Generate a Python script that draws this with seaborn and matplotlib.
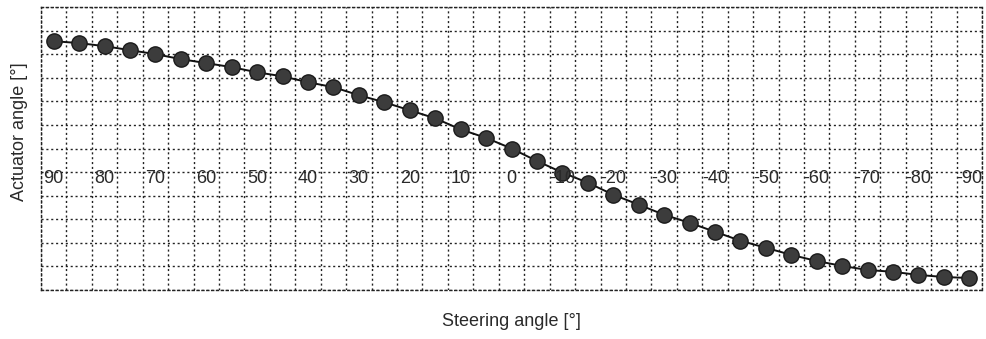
import numpy as np
import pandas as pd
import matplotlib
matplotlib.use("Agg")
import matplotlib.pyplot as plt
import seaborn as sns

# Data (actuator angle in arbitrary degrees, 10 per grid row)
steering = list(range(90, -95, -5))
actuator = [45.5, 44.7, 43.4, 41.7, 40.0, 37.9, 36.2, 34.5, 32.3, 30.6,
            28.1, 26.0, 22.6, 19.6, 16.2, 12.8, 8.1, 4.5, 0.0, -5.3,
            -10.2, -14.5, -19.6, -23.8, -28.1, -31.5, -35.3, -39.1, -42.1, -45.1,
            -47.7, -49.8, -51.5, -52.3, -53.6, -54.5, -54.9]
label_angles = list(range(90, -100, -10))
label_texts = [str(a) for a in label_angles]

df = pd.DataFrame({"steering": steering, "actuator": actuator})

sns.set_style("white")
plt.rcParams['font.family'] = ['Liberation Sans', 'DejaVu Sans']

fig = plt.figure(figsize=(9.86, 3.39), dpi=100)
ax = fig.add_axes([41 / 986, 49 / 339, 941 / 986, 283 / 339])

sns.lineplot(data=df, x="steering", y="actuator", ax=ax, color="#111111",
             linewidth=1.4, marker="o", markersize=11,
             markerfacecolor="#3c3c3c", markeredgecolor="#1a1a1a",
             markeredgewidth=1.0)

ax.set_xlim(92.5, -92.5)
ax.set_ylim(-60, 60)

# grid on cell edges, no tick labels
ax.set_xticks(np.arange(-92.5, 93, 5))
ax.set_yticks(np.arange(-60, 61, 10))
ax.set_xticklabels([])
ax.set_yticklabels([])
ax.tick_params(length=0)
ax.grid(True, color="#222222", linestyle=(0, (1.5, 2.0)), linewidth=1.0)
ax.set_axisbelow(True)
for s in ax.spines.values():
    s.set_linestyle((0, (1.5, 2.0)))
    s.set_color("#222222")
    s.set_linewidth(1.0)

# angle labels inside the chart
for a, t in zip(label_angles, label_texts):
    ax.text(a, -12.8, t, ha="center", va="center", fontsize=13, color="#2a2a2a")

ax.set_xlabel("Steering angle [°]", fontsize=13, color="#2a2a2a", labelpad=13)
ax.set_ylabel("Actuator angle [°]", fontsize=13, color="#2a2a2a")
ax.yaxis.set_label_coords(-0.014, 0.56)

fig.savefig("out.png", dpi=100)
